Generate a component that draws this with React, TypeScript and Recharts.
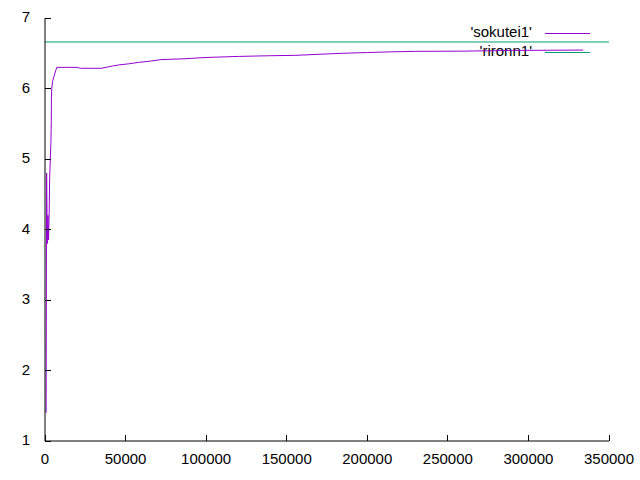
import React from "react";
import { LineChart, Line, XAxis, YAxis } from "recharts";

const sokuteiX = [
  700, 1000, 1400, 1800, 2200, 2600, 2900, 3300, 3700, 3900, 4000, 4200, 4700,
  5800, 7300, 20000, 22000, 35000, 38000, 42000, 46000, 52000, 58000, 66000,
  72000, 85000, 100000, 120000, 140000, 155000, 170000, 185000, 200000, 215000,
  230000, 260000, 290000, 334000,
];
const sokuteiY = [
  1.4, 4.8, 3.8, 4.2, 3.85, 4.25, 4.75, 5.0, 5.25, 5.55, 5.87, 6.0, 6.1, 6.19,
  6.3, 6.3, 6.287, 6.287, 6.3, 6.32, 6.335, 6.35, 6.37, 6.39, 6.41, 6.42, 6.44,
  6.455, 6.465, 6.47, 6.485, 6.5, 6.51, 6.52, 6.527, 6.53, 6.54, 6.545,
];
const rironnX = [0, 350000];
const rironnY = [6.66, 6.66];
const xTicks = [0, 50000, 100000, 150000, 200000, 250000, 300000, 350000];
const yTicks = [1, 2, 3, 4, 5, 6, 7];
const seriesNames = ["'sokutei1'", "'rironn1'"];

const sokuteiData = sokuteiX.map((x, i) => ({ x, y: sokuteiY[i] }));
const rironnData = rironnX.map((x, i) => ({ x, y: rironnY[i] }));

const COLORS = ["#9400d3", "#009e73"];
const FONT = "'Liberation Sans', Arial, sans-serif";
const FS = 15;
const TICK = 6;

function BottomTick(props: any) {
  const { x, y, payload } = props;
  return (
    <g>
      <line x1={x} x2={x} y1={y} y2={y - TICK} stroke="#000" strokeWidth={1} shapeRendering="crispEdges" />
      <text x={x} y={y + 23} textAnchor="middle" fontSize={FS} fontFamily={FONT} fill="#000">
        {payload.value}
      </text>
    </g>
  );
}

function TopTick(props: any) {
  const { x, y } = props;
  return <line x1={x} x2={x} y1={y} y2={y + TICK} stroke="#000" strokeWidth={1} shapeRendering="crispEdges" />;
}

function LeftTick(props: any) {
  const { x, y, payload } = props;
  return (
    <g>
      <line x1={x} x2={x + TICK} y1={y} y2={y} stroke="#000" strokeWidth={1} shapeRendering="crispEdges" />
      <text x={x - 15} y={y + 4} textAnchor="end" fontSize={FS} fontFamily={FONT} fill="#000">
        {payload.value}
      </text>
    </g>
  );
}

function RightTick(props: any) {
  const { x, y } = props;
  return <line x1={x} x2={x - TICK} y1={y} y2={y} stroke="#000" strokeWidth={1} shapeRendering="crispEdges" />;
}

function KeyBox() {
  return (
    <svg width={640} height={480} style={{ position: "absolute", left: 0, top: 0 }}>
      {seriesNames.map((name, i) => (
        <g key={name}>
          <text x={532} y={37 + i * 19} textAnchor="end" fontSize={FS} fontFamily={FONT} fill="#000">
            {name}
          </text>
          <line x1={545} x2={590} y1={33.5 + i * 19} y2={33.5 + i * 19} stroke={COLORS[i]} strokeWidth={1} />
        </g>
      ))}
    </svg>
  );
}

export default function App() {
  const axisLine = { stroke: "#000", strokeWidth: 1 };
  return (
    <div style={{ position: "absolute", left: 0, top: 0, width: 640, height: 480, background: "#fff" }}>
      <KeyBox />
      <div style={{ position: "absolute", left: 0, top: 0 }}>
        <LineChart width={640} height={480} margin={{ top: 18, right: 31, bottom: 0, left: 0 }}>
          <XAxis
            xAxisId="bottom"
            dataKey="x"
            type="number"
            domain={[0, 350000]}
            ticks={xTicks}
            allowDataOverflow
            height={39}
            tickSize={0}
            tickMargin={0}
            tickLine={false}
            axisLine={axisLine}
            tick={<BottomTick />}
            interval={0}
          />
          <XAxis
            xAxisId="top"
            orientation="top"
            dataKey="x"
            type="number"
            domain={[0, 350000]}
            ticks={xTicks}
            allowDataOverflow
            height={0}
            tickSize={0}
            tickMargin={0}
            tickLine={false}
            axisLine={axisLine}
            tick={<TopTick />}
            interval={0}
          />
          <YAxis
            yAxisId="left"
            type="number"
            domain={[1, 7]}
            ticks={yTicks}
            allowDataOverflow
            width={45}
            tickSize={0}
            tickMargin={0}
            tickLine={false}
            axisLine={axisLine}
            tick={<LeftTick />}
            interval={0}
          />
          <YAxis
            yAxisId="right"
            orientation="right"
            type="number"
            domain={[1, 7]}
            ticks={yTicks}
            allowDataOverflow
            width={0}
            tickSize={0}
            tickMargin={0}
            tickLine={false}
            axisLine={axisLine}
            tick={<RightTick />}
            interval={0}
          />
          <Line
            xAxisId="bottom"
            yAxisId="left"
            data={sokuteiData}
            dataKey="y"
            type="linear"
            stroke={COLORS[0]}
            strokeWidth={1}
            dot={false}
            activeDot={false}
            isAnimationActive={false}
          />
          <Line
            xAxisId="bottom"
            yAxisId="left"
            data={rironnData}
            dataKey="y"
            type="linear"
            stroke={COLORS[1]}
            strokeWidth={1}
            dot={false}
            activeDot={false}
            isAnimationActive={false}
          />
          <Line
            xAxisId="top"
            yAxisId="right"
            data={rironnData}
            dataKey="y"
            type="linear"
            stroke="none"
            dot={false}
            activeDot={false}
            isAnimationActive={false}
          />
        </LineChart>
      </div>
    </div>
  );
}
